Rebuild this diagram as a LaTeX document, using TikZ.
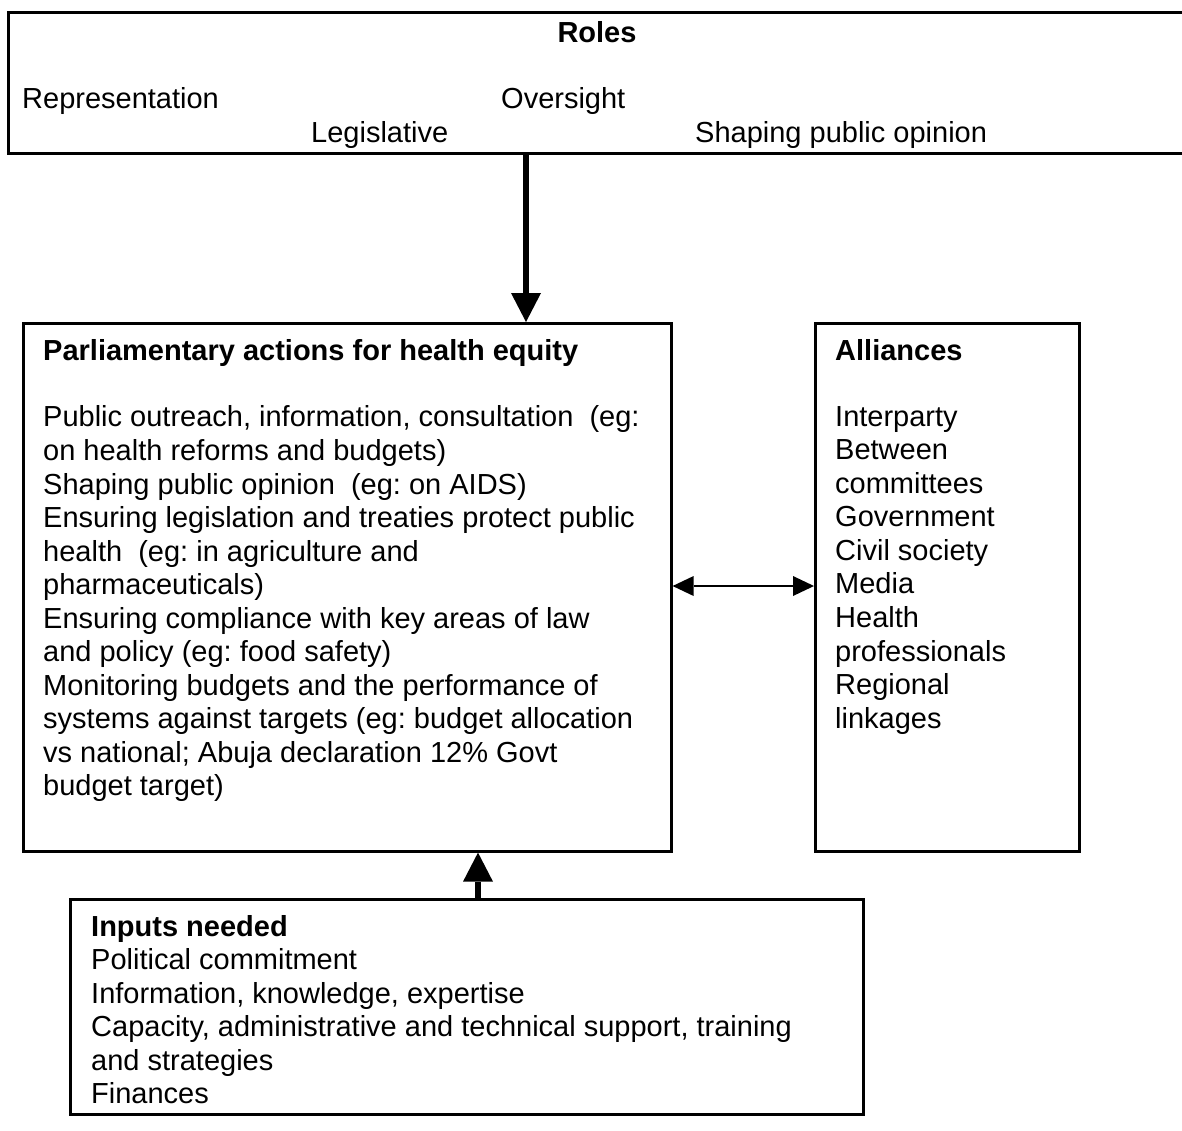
\documentclass[tikz,border=0pt]{standalone}
\usepackage{fontspec}
\setmainfont{Liberation Sans}
\usetikzlibrary{arrows.meta}
\frenchspacing
\tikzset{
  box/.style={draw, line width=2.6pt, rectangle, inner sep=0pt, anchor=north west},
  txt/.style={inner sep=0pt, font=\fontsize{29}{33.55}\selectfont\frenchspacing},
  mtxt/.style={txt, align=left, anchor=north west},
  bigarrow/.style={line width=6pt, -{Triangle[width=30pt,length=29pt,line width=0pt]}},
  dblarrow/.style={line width=2pt, {Triangle[width=20pt,length=21pt,line width=0pt]}-{Triangle[width=20pt,length=21pt,line width=0pt]}}
}
\begin{document}
\begin{tikzpicture}[x=1pt,y=-1pt]
\useasboundingbox (0,0) rectangle (1182,1130);
% Roles box (runs off the right edge)
\node[box, minimum width=1210pt, minimum height=141pt] (roles) at (7,11) {};
\node[txt, anchor=base] (rolesT) at (597,42) {\textbf{Roles}};
\node[txt, anchor=base west] (rep) at (22,108) {Representation};
\node[txt, anchor=base west] (ovs) at (501,108) {Oversight};
\node[txt, anchor=base west] (leg) at (311,142) {Legislative};
\node[txt, anchor=base west] (shp) at (695,142) {Shaping public opinion};
% Main box
\node[box, minimum width=648pt, minimum height=528pt] (main) at (22,322) {};
\node[txt, anchor=base west] (mainH) at (43,360) {\textbf{Parliamentary actions for health equity}};
\node[mtxt] (mainB) at (43,426.7-23.49) {\strut Public outreach, information, consultation\ \ (eg:\\
on health reforms and budgets)\\
Shaping public opinion\ \ (eg: on AIDS)\\
Ensuring legislation and treaties protect public\\
health\ \ (eg: in agriculture and\\
pharmaceuticals)\\
Ensuring compliance with key areas of law\\
and policy (eg: food safety)\\
Monitoring budgets and the performance of\\
systems against targets (eg: budget allocation\\
vs national; Abuja declaration 12\% Govt\\
budget target)};
% Alliances box
\node[box, minimum width=264pt, minimum height=528pt] (all) at (814,322) {};
\node[txt, anchor=base west] (allH) at (835,360) {\textbf{Alliances}};
\node[mtxt] (allB) at (835,426-23.49) {\strut Interparty\\
Between\\
committees\\
Government\\
Civil society\\
Media\\
Health\\
professionals\\
Regional\\
linkages};
% Inputs box
\node[box, minimum width=793pt, minimum height=215pt] (inp) at (69,898) {};
\begin{scope}
\clip (inp.north west) rectangle ([yshift=10pt]inp.south east);
\node[mtxt] (inpB) at (91,936-23.49) {\strut\textbf{Inputs needed}\\
Political commitment\\
Information, knowledge, expertise\\
Capacity, administrative and technical support, training\\
and strategies\\
Finances};
\end{scope}
% Connectors
\coordinate (ax1) at (526,0);
\coordinate (ax2) at (478,0);
\coordinate (ay3) at (0,586);
\draw[bigarrow] (roles.south -| ax1) -- (main.north -| ax1);
\draw[bigarrow] (inp.north -| ax2) -- (main.south -| ax2);
\draw[dblarrow] (main.east |- ay3) -- (all.west |- ay3);
\end{tikzpicture}
\end{document}
